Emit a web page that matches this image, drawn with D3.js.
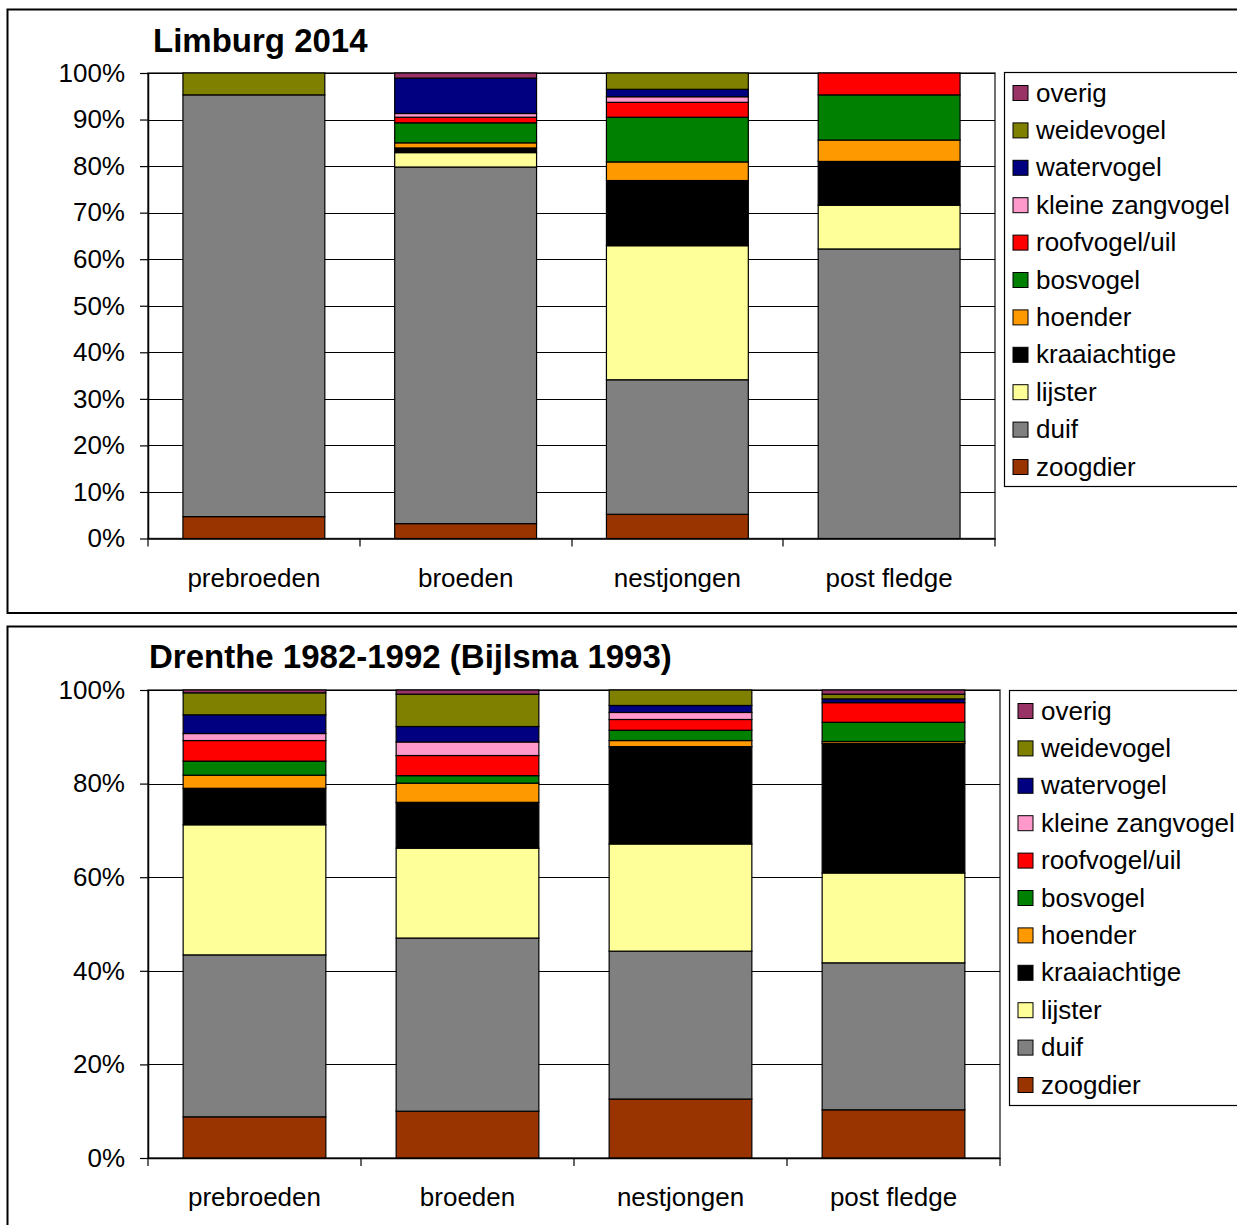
<!DOCTYPE html>
<html>
<head>
<meta charset="utf-8">
<script src="https://cdn.jsdelivr.net/npm/d3@7"></script>
<style>
  body { margin: 0; background: #fff; }
  svg { display: block; font-family: "Liberation Sans", Arial, sans-serif; }
</style>
</head>
<body>
<div id="chart"></div>
<script>
// categories and series (stack order: bottom -> top)
const categories = ['prebroeden', 'broeden', 'nestjongen', 'post fledge'];
const seriesNames = ['zoogdier', 'duif', 'lijster', 'kraaiachtige', 'hoender', 'bosvogel',
    'roofvogel/uil', 'kleine zangvogel', 'watervogel', 'weidevogel', 'overig'];
const seriesColors = ['#993300', '#808080', '#FFFF99', '#000000', '#FF9900', '#008000',
    '#FF0000', '#FF99CC', '#000080', '#808000', '#993366'];

// Limburg 2014, percentages per category, same order as seriesNames
const limburgPrebroeden = [4.7, 90.6, 0, 0, 0, 0, 0, 0, 0, 4.7, 0];
const limburgBroeden = [3.2, 76.6, 3.1, 1.0, 1.1, 4.3, 1.2, 0.8, 7.6, 0, 1.1];
const limburgNestjongen = [5.2, 28.9, 28.8, 14.0, 4.0, 9.6, 3.2, 1.2, 1.6, 3.5, 0];
const limburgPostFledge = [0, 62.2, 9.4, 9.4, 4.6, 9.7, 4.7, 0, 0, 0, 0];

// Drenthe 1982-1992 (Bijlsma 1993)
const drenthePrebroeden = [8.8, 34.6, 27.8, 7.8, 2.8, 3.0, 4.4, 1.5, 4.0, 4.7, 0.6];
const drentheBroeden = [10.0, 37.0, 19.2, 9.8, 4.1, 1.6, 4.3, 2.9, 3.3, 6.9, 0.9];
const drentheNestjongen = [12.6, 31.6, 22.9, 20.8, 1.3, 2.2, 2.3, 1.5, 1.5, 3.3, 0];
const drenthePostFledge = [10.3, 31.4, 19.2, 27.7, 0.4, 4.1, 4.2, 0, 0.8, 1.0, 0.9];

const limburgTicks = [0, 10, 20, 30, 40, 50, 60, 70, 80, 90, 100];
const drentheTicks = [0, 20, 40, 60, 80, 100];

const fontFamily = '"Liberation Sans", Arial, sans-serif';

const svg = d3.select('#chart')
    .append('svg')
    .attr('width', 1237)
    .attr('height', 1225);

function buildTable(rows) {
    return categories.map((c, i) => {
        const row = { category: c };
        seriesNames.forEach((s, j) => { row[s] = rows[i][j]; });
        return row;
    });
}

function drawChart(opts) {
    const g = svg.append('g');

    // outer chart frame
    g.append('rect')
        .attr('x', opts.frame.x)
        .attr('y', opts.frame.y)
        .attr('width', opts.frame.w)
        .attr('height', opts.frame.h)
        .attr('fill', '#fff')
        .attr('stroke', '#000')
        .attr('stroke-width', 2);

    g.append('text')
        .attr('x', opts.titleX)
        .attr('y', opts.titleY)
        .attr('font-size', 33)
        .attr('font-weight', 'bold')
        .attr('fill', '#000')
        .text(opts.title);

    const m = opts.plot;
    const x = d3.scaleBand()
        .domain(categories)
        .range([m.left, m.right])
        .paddingInner(0.33)
        .paddingOuter(0.165);

    const y = d3.scaleLinear()
        .domain([0, 100])
        .range([m.bottom, m.top]);

    // plot area border
    g.append('rect')
        .attr('x', m.left)
        .attr('y', m.top)
        .attr('width', m.right - m.left)
        .attr('height', m.bottom - m.top)
        .attr('fill', '#fff')
        .attr('stroke', '#404040')
        .attr('stroke-width', 1.5);

    // horizontal grid lines
    g.append('g')
        .selectAll('line')
        .data(opts.ticks.filter((t) => t > 0))
        .join('line')
        .attr('x1', m.left)
        .attr('x2', m.right)
        .attr('y1', (d) => Math.round(y(d)) + 0.5)
        .attr('y2', (d) => Math.round(y(d)) + 0.5)
        .attr('stroke', '#000')
        .attr('stroke-width', 1.2);

    // stacked bars
    const stacked = d3.stack().keys(seriesNames)(buildTable(opts.rows));
    g.append('g')
        .selectAll('g')
        .data(stacked)
        .join('g')
        .attr('fill', (d, i) => seriesColors[i])
        .selectAll('rect')
        .data((d) => d.filter((p) => p[1] - p[0] > 0))
        .join('rect')
        .attr('x', (d) => x(d.data.category))
        .attr('width', x.bandwidth())
        .attr('y', (d) => y(d[1]))
        .attr('height', (d) => y(d[0]) - y(d[1]))
        .attr('stroke', '#000')
        .attr('stroke-width', 1.2);

    // y axis
    const yAxis = g.append('g')
        .attr('transform', 'translate(' + m.left + ',0)')
        .call(
            d3.axisLeft(y)
                .tickValues(opts.ticks)
                .tickSize(8)
                .tickSizeOuter(0)
                .tickPadding(15)
                .tickFormat((d) => d + '%'),
        );
    yAxis.selectAll('text')
        .attr('font-size', 26)
        .attr('font-family', fontFamily)
        .attr('fill', '#000');
    yAxis.selectAll('line').attr('stroke', '#000').attr('stroke-width', 1.2);
    yAxis.select('.domain').attr('stroke', '#000').attr('stroke-width', 1.5);

    // x axis with labels under the bars
    const xAxis = g.append('g')
        .attr('transform', 'translate(0,' + m.bottom + ')')
        .call(d3.axisBottom(x).tickSize(0).tickSizeOuter(0).tickPadding(30));
    xAxis.selectAll('text')
        .attr('font-size', 26)
        .attr('font-family', fontFamily)
        .attr('fill', '#000');
    xAxis.select('.domain').attr('stroke', '#000').attr('stroke-width', 1.5);

    // tick marks between categories
    const bounds = d3.range(categories.length + 1).map((i) => m.left + i * x.step());
    g.append('g')
        .selectAll('line')
        .data(bounds)
        .join('line')
        .attr('x1', (d) => Math.round(d))
        .attr('x2', (d) => Math.round(d))
        .attr('y1', m.bottom)
        .attr('y2', m.bottom + 8)
        .attr('stroke', '#000')
        .attr('stroke-width', 1.2);

    // legend
    const lg = opts.legend;
    g.append('rect')
        .attr('x', lg.x)
        .attr('y', lg.y)
        .attr('width', 260)
        .attr('height', lg.h)
        .attr('fill', '#fff')
        .attr('stroke', '#000')
        .attr('stroke-width', 1.2);

    const legendOrder = seriesNames.map((s, i) => i).reverse();
    const items = g.append('g')
        .selectAll('g')
        .data(legendOrder)
        .join('g')
        .attr('transform', (d, i) => 'translate(' + (lg.x + 8.5) + ',' + (lg.y + 20 + i * 37.4) + ')');

    items.append('rect')
        .attr('x', 0)
        .attr('y', -7)
        .attr('width', 15)
        .attr('height', 15)
        .attr('fill', (d) => seriesColors[d])
        .attr('stroke', '#000')
        .attr('stroke-width', 1);

    items.append('text')
        .attr('x', 23)
        .attr('dy', '0.35em')
        .attr('font-size', 26)
        .attr('fill', '#000')
        .text((d) => seriesNames[d]);
}

drawChart({
    title: 'Limburg 2014',
    titleX: 153,
    titleY: 52,
    frame: { x: 7.5, y: 9.5, w: 1260, h: 603.5 },
    plot: { left: 148, right: 995, top: 73, bottom: 538.5 },
    ticks: limburgTicks,
    rows: [limburgPrebroeden, limburgBroeden, limburgNestjongen, limburgPostFledge],
    legend: { x: 1004.5, y: 72.5, h: 414 },
});

drawChart({
    title: 'Drenthe 1982-1992 (Bijlsma 1993)',
    titleX: 149,
    titleY: 668,
    frame: { x: 7.5, y: 626.5, w: 1260, h: 700 },
    plot: { left: 148, right: 1000, top: 690, bottom: 1158 },
    ticks: drentheTicks,
    rows: [drenthePrebroeden, drentheBroeden, drentheNestjongen, drenthePostFledge],
    legend: { x: 1009.5, y: 690.5, h: 415 },
});
</script>
</body>
</html>
